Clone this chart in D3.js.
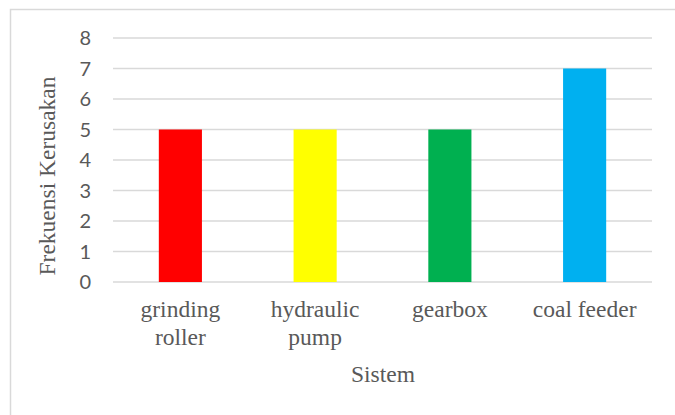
<!DOCTYPE html>
<html>
<head>
<meta charset="utf-8">
<script src="https://cdn.jsdelivr.net/npm/d3@7"></script>
<style>
  html, body { margin: 0; padding: 0; background: #fff; }
  svg { display: block; }
</style>
</head>
<body>
<script>
// Failure frequency per system
const categories = [["grinding", "roller"], ["hydraulic", "pump"], ["gearbox"], ["coal feeder"]];
const values = [5, 5, 5, 7];
const colors = ["#FF0000", "#FFFF00", "#00B050", "#00B0F0"];
const yTicks = [0, 1, 2, 3, 4, 5, 6, 7, 8];
const xTitle = "Sistem";
const yTitle = "Frekuensi Kerusakan";

const W = 675, H = 415;
const plot = { left: 113, right: 652, top: 38, bottom: 282 };

const svg = d3.select("body").append("svg").attr("width", W).attr("height", H);

// chart frame
svg.append("rect")
  .attr("x", 10.5).attr("y", 9.5)
  .attr("width", W + 10).attr("height", H + 10)
  .attr("fill", "#fff").attr("stroke", "#D9D9D9").attr("stroke-width", 1.5);

const x = d3.scaleBand()
  .domain(d3.range(categories.length))
  .range([plot.left, plot.right])
  .padding(0);

const y = d3.scaleLinear().domain([0, 8]).range([plot.bottom, plot.top]);

// gridlines
svg.append("g").selectAll("line").data(yTicks).join("line")
  .attr("x1", plot.left).attr("x2", plot.right)
  .attr("y1", d => y(d)).attr("y2", d => y(d))
  .attr("stroke", "#D9D9D9").attr("stroke-width", 1.5);

// y tick labels
svg.append("g").selectAll("text").data(yTicks).join("text")
  .attr("x", 91).attr("y", d => y(d))
  .attr("dy", "0.36em")
  .attr("text-anchor", "end")
  .attr("font-family", "Lato, 'Open Sans', sans-serif")
  .attr("font-size", 20)
  .attr("fill", "#595959")
  .text(d => d);

// bars
const barFrac = 0.32;
svg.append("g").selectAll("rect").data(values).join("rect")
  .attr("x", (d, i) => x(i) + x.bandwidth() * (1 - barFrac) / 2)
  .attr("width", x.bandwidth() * barFrac)
  .attr("y", d => y(d))
  .attr("height", d => y(0) - y(d))
  .attr("fill", (d, i) => colors[i]);

// category labels
const serif = "'Liberation Serif', 'Times New Roman', serif";
const fs = 23.5;
const catG = svg.append("g");
categories.forEach((lines, i) => {
  const t = catG.append("text")
    .attr("x", x(i) + x.bandwidth() / 2)
    .attr("y", 317)
    .attr("text-anchor", "middle")
    .attr("font-family", serif)
    .attr("font-size", fs)
    .attr("fill", "#595959");
  lines.forEach((ln, k) => {
    t.append("tspan").attr("x", x(i) + x.bandwidth() / 2)
      .attr("dy", k === 0 ? 0 : 27.5).text(ln);
  });
});

// axis titles
svg.append("text")
  .attr("x", 383).attr("y", 382)
  .attr("text-anchor", "middle")
  .attr("font-family", serif)
  .attr("font-size", fs)
  .attr("fill", "#595959")
  .text(xTitle);

svg.append("text")
  .attr("transform", "translate(55,176) rotate(-90)")
  .attr("text-anchor", "middle")
  .attr("font-family", serif)
  .attr("font-size", fs)
  .attr("fill", "#595959")
  .text(yTitle);
</script>
</body>
</html>
